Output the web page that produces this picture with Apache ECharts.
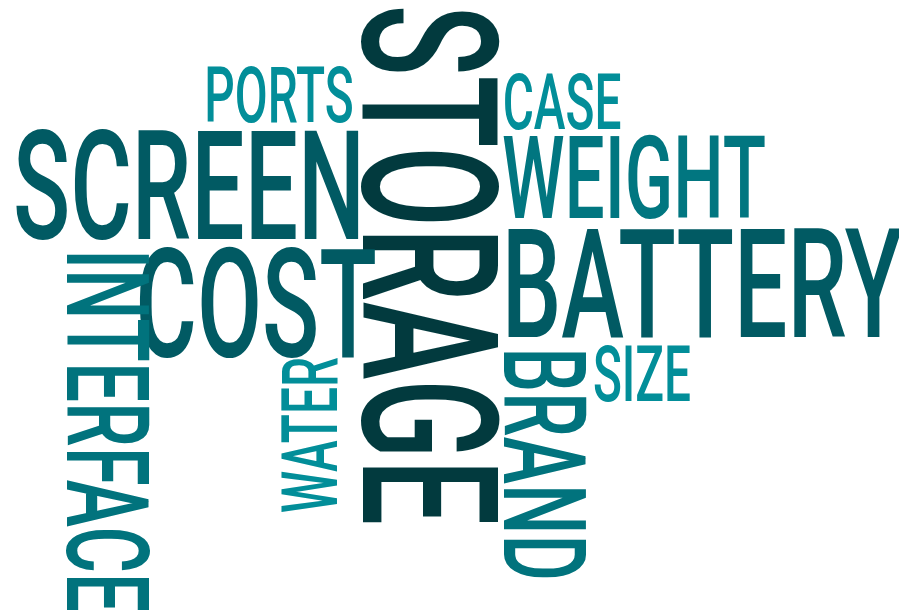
<!DOCTYPE html>
<html>
<head>
<meta charset="utf-8">
<script src="https://cdn.jsdelivr.net/npm/echarts@6/dist/echarts.min.js"></script>
<style>
  html, body { margin: 0; padding: 0; background: #fff; }
  #wordCloud { width: 899px; height: 610px; }
</style>
</head>
<body>
<div id="wordCloud"></div>
<script>
// words and how often they come up
const words = ['STORAGE', 'SCREEN', 'COST', 'BATTERY', 'WEIGHT', 'INTERFACE', 'BRAND', 'PORTS', 'CASE', 'SIZE', 'WATER'];
const weights = [5, 4, 4, 4, 3, 3, 3, 2, 2, 2, 2];
const colors = ['#023a3e', '#015a63', '#015a63', '#015a63', '#017680', '#01737d', '#01737d', '#028e99', '#028e99', '#028e99', '#028e99'];
// 0 = horizontal, -90 = reads top to bottom, 90 = reads bottom to top
const angles = [-90, 0, 0, 0, 0, -90, -90, 0, 0, 0, 90];
// where each word sits (centre, in axis units)
const layout = [[430, 265], [189, 186], [256, 304], [702, 284], [634, 178], [107, 431], [544, 464], [279, 95], [562, 102], [642, 374], [310, 435]];

const chartDom = document.getElementById('wordCloud');
const myChart = echarts.init(chartDom);

function fontSize(w) {
  return 77 + (w - 2) * 37.7;
}

const seriesData = words.map((w, i) => [layout[i][0], layout[i][1], weights[i], angles[i], w, colors[i]]);

const option = {
  animation: false,
  grid: { left: 0, right: 0, top: 0, bottom: 0 },
  xAxis: { type: 'value', min: 0, max: 899, show: false },
  yAxis: { type: 'value', min: 0, max: 610, inverse: true, show: false },
  series: [{
    type: 'custom',
    coordinateSystem: 'cartesian2d',
    data: seriesData,
    renderItem: function (params, api) {
      const pt = api.coord([api.value(0), api.value(1)]);
      const d = seriesData[params.dataIndex];
      const size = fontSize(d[2]);
      return {
        type: 'text',
        x: pt[0],
        y: pt[1],
        rotation: d[3] * Math.PI / 180,
        scaleX: 0.62,
        style: {
          text: d[4],
          // caps only, so nudge down to centre the capitals
          y: size * 0.1,
          fontSize: size,
          fontFamily: 'Roboto',
          fontWeight: 500,
          fill: d[5],
          align: 'center',
          verticalAlign: 'middle'
        }
      };
    }
  }]
};

myChart.setOption(option);
</script>
</body>
</html>
